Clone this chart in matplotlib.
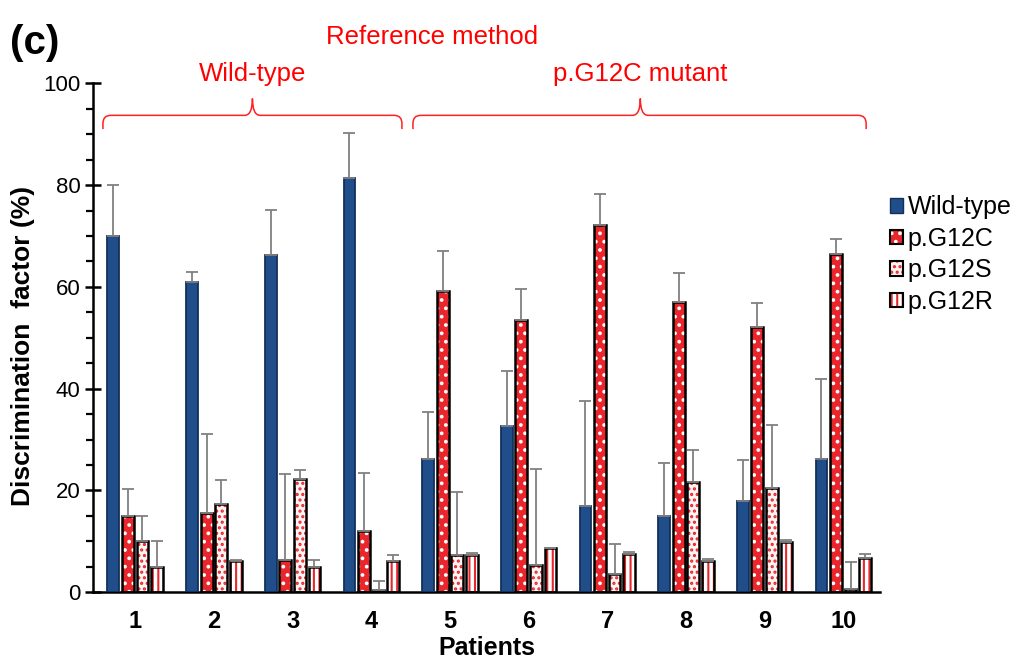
import matplotlib
matplotlib.use("Agg")
import matplotlib.pyplot as plt
import numpy as np
from matplotlib.path import Path
from matplotlib.patches import PathPatch, Patch
from matplotlib.legend_handler import HandlerTuple
from matplotlib.ticker import MultipleLocator

plt.rcParams['font.family'] = ['Liberation Sans', 'DejaVu Sans']
plt.rcParams['hatch.linewidth'] = 1.5

patients = ['1', '2', '3', '4', '5', '6', '7', '8', '9', '10']
series = ['Wild-type', 'p.G12C', 'p.G12S', 'p.G12R']

wild_type = [70.0, 61.0, 66.3, 81.3, 26.1, 32.6, 16.9, 15.0, 18.0, 26.1]
g12c = [15.0, 15.6, 6.3, 12.0, 59.2, 53.4, 72.2, 57.1, 52.1, 66.4]
g12s = [10.0, 17.4, 22.3, 0.5, 7.3, 5.4, 3.5, 21.7, 20.5, 0.6]
g12r = [5.0, 6.2, 5.0, 6.1, 7.3, 8.6, 7.5, 6.1, 9.8, 6.8]

wild_type_err = [10.0, 2.0, 8.8, 9.0, 9.3, 10.8, 20.6, 10.3, 7.9, 15.8]
g12c_err = [5.2, 15.4, 17.0, 11.4, 7.8, 6.2, 6.0, 5.7, 4.7, 3.1]
g12s_err = [5.0, 4.6, 1.7, 1.7, 12.4, 18.9, 5.9, 6.3, 12.3, 5.4]
g12r_err = [5.0, 0.1, 1.4, 1.3, 0.4, 0.1, 0.5, 0.5, 0.5, 0.7]

values = [wild_type, g12c, g12s, g12r]
errors = [wild_type_err, g12c_err, g12s_err, g12r_err]

RED = '#e8262b'
styles = [
    dict(face='#1f4e8a', hatch=None, hcolor=None, edge='#14305a'),
    dict(face=RED, hatch='..', hcolor='white', edge='black'),
    dict(face='#fff4f4', hatch='...', hcolor=RED, edge='black'),
    dict(face='white', hatch='|||', hcolor=RED, edge='black'),
]

fig = plt.figure(figsize=(10.13, 6.61), dpi=100)
ax = fig.add_axes([0.092, 0.104, 0.777, 0.770])

x = np.arange(len(patients))
step = 0.185
width = 0.15
handles = []
for i, (vals, errs, st) in enumerate(zip(values, errors, styles)):
    pos = x + (i - 1.5) * step
    if st['hatch']:
        ax.bar(pos, vals, width, color=st['face'], edgecolor=st['hcolor'],
               hatch=st['hatch'], linewidth=0, zorder=2)
        ax.bar(pos, vals, width, facecolor='none', edgecolor=st['edge'],
               linewidth=1.8, zorder=3)
        h = (Patch(facecolor=st['face'], edgecolor=st['hcolor'], hatch=st['hatch'], linewidth=0),
             Patch(facecolor='none', edgecolor=st['edge'], linewidth=1.5))
    else:
        ax.bar(pos, vals, width, color=st['face'], edgecolor=st['edge'],
               linewidth=1.3, zorder=3)
        h = Patch(facecolor=st['face'], edgecolor=st['edge'], linewidth=1.0)
    handles.append(h)
    ax.errorbar(pos, vals, yerr=[np.zeros(len(errs)), errs], fmt='none',
                ecolor='#808080', elinewidth=1.3, capsize=4.5, capthick=1.3, zorder=4)

ax.set_xlim(-0.534, 9.47)
ax.set_ylim(0, 100)
ax.spines['top'].set_visible(False)
ax.spines['right'].set_visible(False)
ax.spines['left'].set_linewidth(1.8)
ax.spines['bottom'].set_linewidth(1.8)
ax.yaxis.set_major_locator(MultipleLocator(20))
ax.yaxis.set_minor_locator(MultipleLocator(5))
ax.tick_params(axis='y', which='major', direction='inout', length=12, width=1.8,
               labelsize=16, pad=3)
ax.tick_params(axis='y', which='minor', direction='out', length=5, width=1.6)
ax.set_xticks(x)
ax.set_xticklabels(patients, fontsize=17, fontweight='bold')
ax.tick_params(axis='x', length=0, pad=13)
ax.set_xlabel('Patients', fontsize=18, fontweight='bold', labelpad=2)
ax.set_ylabel('Discrimination  factor (%)', fontsize=19, fontweight='bold')
ax.yaxis.set_label_coords(-0.074, 0.483)


def brace(x0, x1, xc, y_end, y_h, y_tip, rx=0.1, ry=1.6):
    verts = [(x0, y_end), (x0, y_h - ry), (x0, y_h), (x0 + rx, y_h),
             (xc - rx, y_h), (xc, y_h), (xc, y_tip),
             (xc, y_h), (xc + rx, y_h),
             (x1 - rx, y_h), (x1, y_h), (x1, y_h - ry), (x1, y_end)]
    codes = [Path.MOVETO, Path.LINETO, Path.CURVE3, Path.CURVE3,
             Path.LINETO, Path.CURVE3, Path.CURVE3,
             Path.CURVE3, Path.CURVE3,
             Path.LINETO, Path.CURVE3, Path.CURVE3, Path.LINETO]
    ax.add_patch(PathPatch(Path(verts, codes), facecolor='none', edgecolor='#ff2020',
                           linewidth=1.1, clip_on=False, zorder=5))


brace(-0.41, 3.39, 1.49, 91.0, 93.7, 97.0)
brace(3.53, 9.29, 6.42, 91.0, 93.7, 97.0)
ax.text(1.49, 101.8, 'Wild-type', color='#ff0000', fontsize=18.5, ha='center', va='center',
        clip_on=False)
ax.text(6.42, 101.8, 'p.G12C mutant', color='#ff0000', fontsize=18.5, ha='center', va='center',
        clip_on=False)
fig.text(0.427, 0.944, 'Reference method', color='#ff0000', fontsize=18.5, ha='center',
         va='center')
fig.text(0.01, 0.935, '(c)', fontsize=29, fontweight='bold', ha='left', va='center')

leg = ax.legend(handles, series, handler_map={tuple: HandlerTuple(ndivide=1)},
                loc='upper left', bbox_to_anchor=(1.0127, 0.78), frameon=False,
                fontsize=18, handlelength=0.5, handleheight=0.5, handletextpad=0.2,
                labelspacing=0.3, borderaxespad=0, borderpad=0)

fig.savefig('out.png', dpi=100)
